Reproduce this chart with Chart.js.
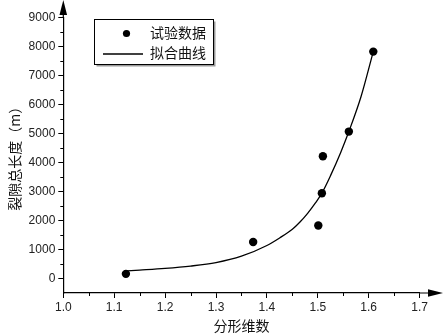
<!DOCTYPE html>
<html>
<head>
<meta charset="utf-8">
<script src="https://cdn.jsdelivr.net/npm/chart.js@4.4.1/dist/chart.umd.min.js"></script>
<style>
  html, body { margin: 0; padding: 0; background: #fff; }
  canvas { display: block; }
</style>
</head>
<body>
<canvas id="fractalChart" width="443" height="335"></canvas>
<script>
// tick values
var xTicks = [1.0, 1.1, 1.2, 1.3, 1.4, 1.5, 1.6, 1.7];
var yTicks = [0, 1000, 2000, 3000, 4000, 5000, 6000, 7000, 8000, 9000];

// measured samples: fractal dimension vs total crack length
var testX = [1.123, 1.373, 1.501, 1.508, 1.510, 1.561, 1.609];
var testY = [160, 1260, 1830, 2940, 4220, 5070, 7830];

// fitted curve
var fitX = [1.125, 1.15, 1.20, 1.25, 1.30, 1.35, 1.40, 1.425, 1.45, 1.465, 1.48,
            1.495, 1.508, 1.525, 1.545, 1.561, 1.585, 1.609];
var fitY = [265, 292, 350, 430, 550, 770, 1140, 1400, 1700, 1950, 2250,
            2600, 2945, 3550, 4350, 5070, 6280, 7830];

var seriesNames = ['试验数据', '拟合曲线'];

function toPoints(xs, ys) {
    return xs.map(function (x, i) { return { x: x, y: ys[i] }; });
}

var tickFont = { family: '"Liberation Sans", Arial, sans-serif', size: 12 };
var cjkFont = '"Noto Sans CJK SC", "Noto Sans CJK JP", sans-serif';

// axis arrows, minor ticks and the framed legend
var decorPlugin = {
    id: 'decor',
    afterDraw: function (chart) {
        var ctx = chart.ctx;
        var area = chart.chartArea;
        var xs = chart.scales.x, ys = chart.scales.y;
        ctx.save();
        ctx.strokeStyle = '#000';
        ctx.fillStyle = '#000';
        ctx.lineWidth = 1.2;

        // extend axes to the arrow heads
        ctx.beginPath();
        ctx.moveTo(area.left, area.top);
        ctx.lineTo(area.left, 8);
        ctx.moveTo(area.right, area.bottom);
        ctx.lineTo(chart.width - 8, area.bottom);
        ctx.stroke();

        ctx.beginPath();
        ctx.moveTo(area.left, 0);
        ctx.lineTo(area.left - 3.8, 15);
        ctx.lineTo(area.left + 3.8, 15);
        ctx.closePath();
        ctx.fill();

        ctx.beginPath();
        ctx.moveTo(chart.width, area.bottom);
        ctx.lineTo(chart.width - 15, area.bottom - 3.8);
        ctx.lineTo(chart.width - 15, area.bottom + 3.8);
        ctx.closePath();
        ctx.fill();

        // minor ticks halfway between the major ones
        ctx.lineWidth = 1;
        ctx.beginPath();
        for (var i = 0; i < yTicks.length - 1; i++) {
            var py = Math.round(ys.getPixelForValue((yTicks[i] + yTicks[i + 1]) / 2)) + 0.5;
            ctx.moveTo(area.left, py);
            ctx.lineTo(area.left - 3, py);
        }
        for (var j = 0; j < xTicks.length - 1; j++) {
            var px = Math.round(xs.getPixelForValue((xTicks[j] + xTicks[j + 1]) / 2)) + 0.5;
            ctx.moveTo(px, area.bottom);
            ctx.lineTo(px, area.bottom + 3);
        }
        ctx.stroke();

        // legend box
        var bx = 94.5, by = 19.5, bw = 119, bh = 45;
        ctx.fillStyle = '#9a9a9a';
        ctx.fillRect(bx + 2, by + 2, bw, bh);
        ctx.fillStyle = '#fff';
        ctx.fillRect(bx, by, bw, bh);
        ctx.strokeStyle = '#000';
        ctx.lineWidth = 1;
        ctx.strokeRect(bx, by, bw, bh);

        ctx.fillStyle = '#000';
        ctx.beginPath();
        ctx.arc(126.5, 33.5, 3.6, 0, Math.PI * 2);
        ctx.fill();

        ctx.lineWidth = 1.3;
        ctx.beginPath();
        ctx.moveTo(103, 54);
        ctx.lineTo(143, 54);
        ctx.stroke();

        ctx.font = '14px ' + cjkFont;
        ctx.textBaseline = 'middle';
        ctx.fillStyle = '#111';
        ctx.fillText(chart.data.datasets[0].label, 150, 33);
        ctx.fillText(chart.data.datasets[1].label, 150, 53);
        ctx.restore();
    }
};

var ctx = document.getElementById('fractalChart');
var chart = new Chart(ctx, {
    type: 'scatter',
    data: {
        datasets: [{
            label: seriesNames[0],
            data: toPoints(testX, testY),
            backgroundColor: '#000',
            borderColor: '#000',
            pointRadius: 4.2,
            pointHoverRadius: 4.2,
            borderWidth: 0,
            showLine: false,
            order: 0
        }, {
            label: seriesNames[1],
            data: toPoints(fitX, fitY),
            borderColor: '#000',
            backgroundColor: '#000',
            borderWidth: 1.3,
            pointRadius: 0,
            showLine: true,
            cubicInterpolationMode: 'monotone',
            order: 1
        }]
    },
    options: {
        responsive: false,
        animation: false,
        events: [],
        layout: { padding: { left: 0, right: 23.4, top: 17.7, bottom: 0 } },
        plugins: {
            legend: { display: false },
            tooltip: { enabled: false }
        },
        scales: {
            x: {
                type: 'linear',
                min: 1.0,
                max: 1.7,
                afterBuildTicks: function (s) {
                    s.ticks = xTicks.map(function (v) { return { value: v }; });
                },
                afterFit: function (s) { s.height = 42; },
                ticks: {
                    font: tickFont,
                    color: '#222',
                    padding: 2,
                    maxRotation: 0,
                    callback: function (v) { return Number(v).toFixed(1); }
                },
                grid: {
                    drawOnChartArea: false,
                    drawTicks: true,
                    tickLength: 5,
                    tickColor: '#000',
                    tickWidth: 1
                },
                border: { display: true, color: '#000', width: 1.2 },
                title: {
                    display: true,
                    text: '分形维数',
                    color: '#111',
                    font: { family: cjkFont, size: 14 },
                    padding: { top: 0, bottom: 1 }
                }
            },
            y: {
                type: 'linear',
                min: -500,
                max: 9000,
                afterBuildTicks: function (s) {
                    s.ticks = yTicks.map(function (v) { return { value: v }; });
                },
                afterFit: function (s) { s.width = 63.3; },
                ticks: {
                    font: tickFont,
                    color: '#222',
                    padding: 3,
                    callback: function (v) { return String(v); }
                },
                grid: {
                    drawOnChartArea: false,
                    drawTicks: true,
                    tickLength: 5,
                    tickColor: '#000',
                    tickWidth: 1
                },
                border: { display: true, color: '#000', width: 1.2 },
                title: {
                    display: true,
                    text: '裂隙总长度（m）',
                    color: '#111',
                    font: { family: cjkFont, size: 14 },
                    padding: { top: 6.5, bottom: 0 }
                }
            }
        }
    },
    plugins: [decorPlugin]
});
</script>
</body>
</html>
